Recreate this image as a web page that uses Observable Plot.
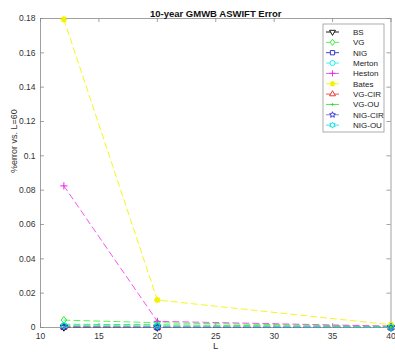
<!DOCTYPE html>
<html><head><meta charset="utf-8">
<script src="https://cdn.jsdelivr.net/npm/d3@7"></script>
<script src="https://cdn.jsdelivr.net/npm/@observablehq/plot@0.6"></script>
<style>body{margin:0;background:#fff;font-family:"Liberation Sans",Arial,sans-serif}</style>
</head><body><div id="chart"></div>
<script>
const L = [12, 20, 40];
const seriesNames = ["BS","VG","NIG","Merton","Heston","Bates","VG-CIR","VG-OU","NIG-CIR","NIG-OU"];
const BS      = [0.0002, 0.0001, 0.00005];
const VG      = [0.0043, 0.0028, 0.0006];
const NIG     = [0.0003, 0.0002, 0.0001];
const Merton  = [0.0009, 0.0008, 0.0002];
const Heston  = [0.0825, 0.0036, 0.0008];
const Bates   = [0.1795, 0.0160, 0.0016];
const VGCIR   = [0.0003, 0.0002, 0.0001];
const VGOU    = [0.0019, 0.0016, 0.0004];
const NIGCIR  = [0.0004, 0.0002, 0.0001];
const NIGOU   = [0.0010, 0.0008, 0.0002];
const xTicks = [10, 15, 20, 25, 30, 35, 40];
const yTicks = [0, 0.02, 0.04, 0.06, 0.08, 0.1, 0.12, 0.14, 0.16, 0.18];

const values = [BS, VG, NIG, Merton, Heston, Bates, VGCIR, VGOU, NIGCIR, NIGOU];
const colors = ["#000000","#22ee22","#2222cc","#00eeee","#ee22ee","#f2f200","#ee2222","#22dd22","#2222dd","#00dddd"];
const lineColors = ["#000000","#44ee44","#3333bb","#33eeee","#ee44ee","#f5f500","#ee4444","#44dd44","#7777cc","#33dddd"];

const triDown = {draw(ctx, size){const s=Math.sqrt(size)*1.15; const h=s*Math.sqrt(3)/2; ctx.moveTo(-s/2,-h/3); ctx.lineTo(s/2,-h/3); ctx.lineTo(0,2*h/3); ctx.closePath();}};
const triUp = {draw(ctx, size){const s=Math.sqrt(size)*1.15; const h=s*Math.sqrt(3)/2; ctx.moveTo(-s/2,h/3); ctx.lineTo(s/2,h/3); ctx.lineTo(0,-2*h/3); ctx.closePath();}};
const hexagram = {draw(ctx, size){const R=Math.sqrt(size)*0.6, r=R*0.55; for(let i=0;i<12;i++){const a=-Math.PI/2+i*Math.PI/6; const rr=i%2?r:R; const x=rr*Math.cos(a), y=rr*Math.sin(a); i?ctx.lineTo(x,y):ctx.moveTo(x,y);} ctx.closePath();}};
const pentagram = {draw(ctx, size){const R=Math.sqrt(size)*0.6, r=R*0.45; for(let i=0;i<10;i++){const a=-Math.PI/2+i*Math.PI/5; const rr=i%2?r:R; const x=rr*Math.cos(a), y=rr*Math.sin(a); i?ctx.lineTo(x,y):ctx.moveTo(x,y);} ctx.closePath();}};
const tinyDot = {draw(ctx, size){const r=Math.sqrt(size)*0.15; ctx.moveTo(r,0); ctx.arc(0,0,r,0,2*Math.PI);}};
const diamond = {draw(ctx, size){const a=Math.sqrt(size)*0.6, b=a*0.75; ctx.moveTo(0,-a); ctx.lineTo(b,0); ctx.lineTo(0,a); ctx.lineTo(-b,0); ctx.closePath();}};
const square = {draw(ctx, size){const a=Math.sqrt(size)*0.42; ctx.rect(-a,-a,2*a,2*a);}};
const circle = {draw(ctx, size){const r=Math.sqrt(size)*0.5; ctx.moveTo(r,0); ctx.arc(0,0,r,0,2*Math.PI);}};
const plus = {draw(ctx, size){const a=Math.sqrt(size)*0.6; ctx.moveTo(-a,0); ctx.lineTo(a,0); ctx.moveTo(0,-a); ctx.lineTo(0,a);}};
const blob = {draw(ctx, size){const a=Math.sqrt(size)*0.55; for(let k=0;k<4;k++){const t=k*Math.PI/4; ctx.moveTo(-a*Math.cos(t),-a*Math.sin(t)); ctx.lineTo(a*Math.cos(t),a*Math.sin(t));} const r=a*0.55; ctx.moveTo(r,0); ctx.arc(0,0,r,0,2*Math.PI);}};
const symbols = [triDown, diamond, square, circle, plus, blob, triUp, tinyDot, pentagram, hexagram];
const fills = ["none","none","none","none","none","#f2f200","none","#22dd22","none","none"];

const rows = [];
seriesNames.forEach((s, i) => L.forEach((l, j) => rows.push({series: s, idx: i, L: l, v: values[i][j]})));

const W = 395, H = 353, mL = 40, mR = 4.5, mT = 18, mB = 26;
const pw = W - mL - mR, ph = H - mT - mB;
const tickLen = 4;
const frameColor = "#8a8a8a";
const symSize = 36;

const marks = [];
marks.push(Plot.frame({stroke: frameColor, strokeWidth: 0.8}));
marks.push(Plot.tickX(xTicks, {x: d => d, insetTop: ph - tickLen, stroke: frameColor, strokeWidth: 0.8}));
marks.push(Plot.tickX(xTicks, {x: d => d, insetBottom: ph - tickLen, stroke: frameColor, strokeWidth: 0.8}));
marks.push(Plot.tickY(yTicks, {y: d => d, insetRight: pw - tickLen, stroke: frameColor, strokeWidth: 0.8}));
marks.push(Plot.tickY(yTicks, {y: d => d, insetLeft: pw - tickLen, stroke: frameColor, strokeWidth: 0.8}));
marks.push(Plot.axisX(xTicks, {tickSize: 0, tickPadding: 5, fontSize: 8.5, fill: "#333", label: null}));
marks.push(Plot.axisY(yTicks, {tickSize: 0, tickPadding: 5, fontSize: 8.5, fill: "#333", label: null, tickFormat: d => d === 0 ? "0" : String(+d.toFixed(2))}));
seriesNames.forEach((s, i) => {
  const data = rows.filter(r => r.idx === i);
  marks.push(Plot.line(data, {x: "L", y: "v", stroke: lineColors[i], strokeWidth: 0.9, strokeDasharray: "6,4"}));
});
seriesNames.forEach((s, i) => {
  const data = rows.filter(r => r.idx === i);
  marks.push(Plot.dot(data, {x: "L", y: "v", symbol: () => symbols[i], r: Math.sqrt(symSize / Math.PI), stroke: colors[i], fill: fills[i], strokeWidth: i === 5 ? 1.4 : 1}));
});
marks.push(Plot.text(["10-year GMWB ASWIFT Error"], {frameAnchor: "top", dy: -8, fontWeight: "bold", fontSize: 9.5, fill: "#111"}));
marks.push(Plot.text(["L"], {frameAnchor: "bottom", dy: 21, fontSize: 9.5, fill: "#333"}));
marks.push(Plot.text(["%error vs. L=60"], {frameAnchor: "left", dx: -26, rotate: -90, fontSize: 9, fill: "#333"}));

const chart = Plot.plot({
  width: W, height: H,
  marginLeft: mL, marginRight: mR, marginTop: mT, marginBottom: mB,
  style: {fontFamily: "'Liberation Sans', Arial, sans-serif", background: "#fff"},
  x: {domain: [10, 40]},
  y: {domain: [0, 0.18]},
  marks
});

const svg = d3.select(chart);
const lg = svg.append("g").attr("transform", "translate(323,24)");
lg.append("rect").attr("width", 61).attr("height", 108).attr("fill", "#fff").attr("stroke", "#999").attr("stroke-width", 0.8);
seriesNames.forEach((s, i) => {
  const y = 8 + i * 10.35;
  const g = lg.append("g").attr("transform", `translate(0,${y})`);
  g.append("line").attr("x1", 3).attr("x2", 16).attr("stroke", lineColors[i]).attr("stroke-width", 0.9);
  const path = d3.symbol(symbols[i], 26)();
  g.append("path").attr("d", path).attr("transform", "translate(9.5,0)")
    .attr("fill", fills[i] === "none" ? "#fff" : fills[i]).attr("stroke", colors[i]).attr("stroke-width", i === 5 ? 1.2 : 0.9);
  g.append("text").attr("x", 30).attr("y", 3).attr("font-size", 8).attr("text-anchor", "start").attr("fill", "#222").text(s);
});

document.getElementById("chart").appendChild(chart);
</script></body></html>
